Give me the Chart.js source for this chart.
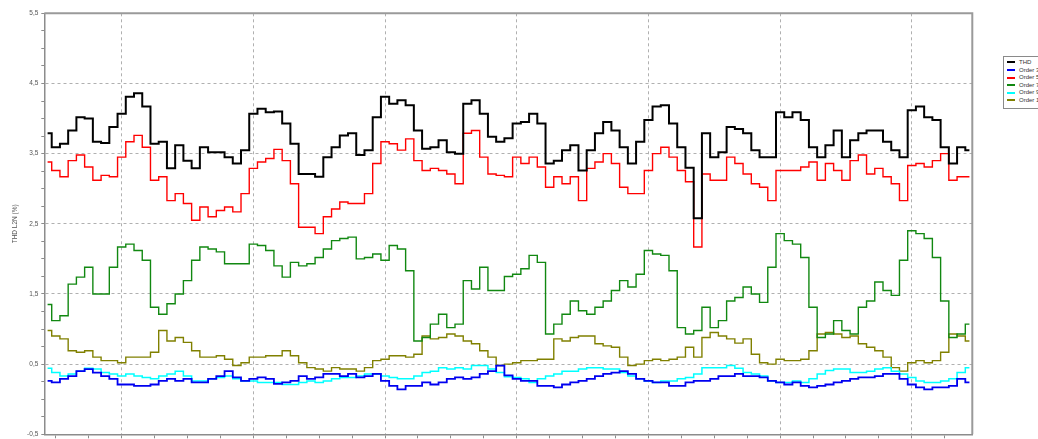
<!DOCTYPE html>
<html>
<head>
<meta charset="utf-8">
<title>THD L2N (%)</title>
<script src="https://cdn.jsdelivr.net/npm/chart.js@4.4.1/dist/chart.umd.min.js"></script>
<style>
    html, body { margin: 0; padding: 0; background: #fff; overflow: hidden; width: 1038px; height: 439px; }
    #wrap { position: relative; width: 1038px; height: 460px; }
    #legend {
        position: absolute; left: 1003px; top: 56px; width: 70px;
        border: 1px solid #8a8a8a; background: #fff; padding: 2px 0 3px 3px;
        font: 6px "Liberation Sans", Arial, sans-serif; color: #333;
    }
    #legend div { height: 7.6px; line-height: 7.6px; white-space: nowrap; }
    #legend span { display: inline-block; width: 8px; height: 2px; vertical-align: middle; margin-right: 4px; }
</style>
</head>
<body>
<div id="wrap">
    <canvas id="thdChart" width="1038" height="460"></canvas>
    <div id="legend"></div>
</div>
<script>
// Values, one sample every ~8 px (16 samples per major x division)

const seriesNames = ['THD', 'Order 3', 'Order 5', 'Order 7', 'Order 9', 'Order 11'];

// x tick labels at the major grid lines (cut off at the bottom of the picture)
const xTickLabels = ['10:00', '12:00', '14:00', '16:00', '18:00', '20:00', '22:00'];

const thd = [
    3.79, 3.59, 3.64, 3.83, 4.02, 4.00, 3.67, 3.65, 3.88, 4.07, 4.31, 4.36, 4.17, 3.64, 3.67, 3.29, 3.62, 3.40, 3.29, 3.59, 3.52, 3.52, 3.45, 3.36, 3.55, 4.07, 4.14, 4.09,
    4.10,
    3.93, 3.64, 3.21, 3.21, 3.17, 3.45, 3.59, 3.76, 3.79, 3.48, 3.55, 4.02, 4.31, 4.21, 4.26, 4.19, 3.83, 3.57, 3.59, 3.69, 3.52, 3.50, 4.21, 4.26, 4.07, 3.74, 3.67,
    3.72,
    3.93, 3.95, 4.07, 3.93, 3.36, 3.40, 3.55, 3.62, 3.26, 3.55, 3.79, 3.95, 3.83, 3.59, 3.36, 3.67, 3.98, 4.17, 4.19, 3.93, 3.59, 3.30, 2.58, 3.79, 3.45, 3.52, 3.88,
    3.85,
    3.79, 3.55, 3.45, 3.45, 4.09, 4.02, 4.09, 3.98, 3.59, 3.45, 3.62, 3.83, 3.45, 3.69, 3.79, 3.83, 3.83, 3.67, 3.55, 3.45, 4.12, 4.17, 4.02, 3.98, 3.59, 3.36, 3.59, 3.55
];

const order3 = [
    0.26, 0.24, 0.29, 0.33, 0.40, 0.43, 0.38, 0.33, 0.29, 0.21, 0.21, 0.19, 0.19, 0.21, 0.26, 0.29, 0.26, 0.29, 0.24, 0.24, 0.29, 0.33, 0.40, 0.31, 0.26, 0.29, 0.31, 0.29,
    0.22,
    0.24, 0.26, 0.33, 0.29, 0.31, 0.36, 0.36, 0.33, 0.36, 0.31, 0.33, 0.36, 0.26, 0.19, 0.14, 0.19, 0.19, 0.24, 0.21, 0.24, 0.29, 0.31, 0.29, 0.31, 0.36, 0.40, 0.48,
    0.34,
    0.29, 0.26, 0.26, 0.19, 0.19, 0.17, 0.21, 0.24, 0.26, 0.29, 0.33, 0.36, 0.38, 0.40, 0.36, 0.29, 0.26, 0.24, 0.24, 0.19, 0.19, 0.24, 0.26, 0.26, 0.29, 0.33, 0.33,
    0.36,
    0.33, 0.33, 0.31, 0.26, 0.24, 0.21, 0.24, 0.19, 0.17, 0.19, 0.21, 0.24, 0.26, 0.29, 0.31, 0.31, 0.33, 0.36, 0.36, 0.29, 0.21, 0.17, 0.14, 0.17, 0.17, 0.19, 0.29, 0.24
];

const order5 = [
    3.38, 3.26, 3.17, 3.40, 3.48, 3.31, 3.12, 3.19, 3.17, 3.45, 3.67, 3.76, 3.59, 3.12, 3.17, 2.83, 2.93, 2.79, 2.55, 2.74, 2.60, 2.69, 2.74, 2.67, 2.93, 3.29, 3.38, 3.43,
    3.56,
    3.40, 3.07, 2.45, 2.45, 2.36, 2.60, 2.71, 2.81, 2.79, 2.79, 2.93, 3.36, 3.67, 3.64, 3.55, 3.71, 3.40, 3.26, 3.29, 3.26, 3.21, 3.07, 3.79, 3.83, 3.45, 3.21, 3.19,
    3.17,
    3.45, 3.36, 3.45, 3.31, 3.02, 3.17, 3.07, 3.17, 2.83, 3.29, 3.38, 3.50, 3.36, 3.02, 2.93, 2.93, 3.26, 3.50, 3.59, 3.45, 3.26, 3.10, 2.17, 3.21, 3.12, 3.12, 3.45,
    3.36,
    3.21, 3.07, 3.02, 2.83, 3.26, 3.26, 3.26, 3.31, 3.38, 3.12, 3.36, 3.26, 3.12, 3.40, 3.48, 3.21, 3.29, 3.17, 3.07, 2.83, 3.33, 3.36, 3.31, 3.40, 3.50, 3.12, 3.17, 3.17
];

const order7 = [
    1.35, 1.12, 1.19, 1.64, 1.74, 1.88, 1.50, 1.50, 1.88, 2.17, 2.21, 2.12, 1.98, 1.31, 1.21, 1.36, 1.50, 1.69, 1.98, 2.17, 2.14, 2.10, 1.93, 1.93, 1.93, 2.21, 2.19, 2.12,
    1.90,
    1.74, 1.95, 1.90, 1.93, 2.02, 2.14, 2.26, 2.29, 2.31, 2.00, 2.02, 2.07, 1.98, 2.19, 2.14, 1.83, 0.83, 0.88, 1.07, 1.21, 1.02, 1.07, 1.69, 1.57, 1.88, 1.55, 1.55,
    1.75,
    1.78, 1.86, 2.05, 1.95, 0.93, 1.07, 1.21, 1.40, 1.26, 1.21, 1.31, 1.40, 1.55, 1.69, 1.60, 1.78, 2.12, 2.07, 2.05, 1.83, 1.02, 0.93, 0.98, 1.31, 1.02, 1.12, 1.40,
    1.45,
    1.60, 1.50, 1.38, 1.88, 2.36, 2.26, 2.21, 2.02, 1.31, 0.88, 0.93, 1.12, 0.98, 0.93, 1.31, 1.40, 1.67, 1.55, 1.48, 1.98, 2.40, 2.36, 2.29, 2.02, 1.40, 0.88, 0.93, 1.07
];

const order9 = [
    0.44, 0.38, 0.33, 0.36, 0.40, 0.44, 0.43, 0.38, 0.36, 0.33, 0.36, 0.33, 0.31, 0.29, 0.33, 0.36, 0.40, 0.33, 0.26, 0.26, 0.29, 0.31, 0.33, 0.29, 0.26, 0.26, 0.24, 0.24,
    0.24,
    0.21, 0.21, 0.24, 0.26, 0.24, 0.26, 0.29, 0.31, 0.31, 0.33, 0.36, 0.36, 0.33, 0.31, 0.29, 0.29, 0.33, 0.38, 0.40, 0.45, 0.43, 0.45, 0.43, 0.48, 0.48, 0.43, 0.38,
    0.32,
    0.31, 0.29, 0.24, 0.29, 0.33, 0.36, 0.40, 0.40, 0.43, 0.45, 0.45, 0.43, 0.43, 0.38, 0.33, 0.29, 0.26, 0.24, 0.26, 0.26, 0.29, 0.31, 0.36, 0.45, 0.45, 0.45, 0.48,
    0.44,
    0.38, 0.36, 0.33, 0.26, 0.24, 0.24, 0.26, 0.24, 0.29, 0.36, 0.41, 0.43, 0.43, 0.38, 0.38, 0.40, 0.43, 0.45, 0.40, 0.36, 0.31, 0.26, 0.24, 0.24, 0.26, 0.29, 0.38, 0.45
];

const order11 = [
    0.98, 0.90, 0.86, 0.69, 0.67, 0.69, 0.60, 0.55, 0.55, 0.52, 0.60, 0.60, 0.60, 0.67, 0.98, 0.83, 0.88, 0.81, 0.69, 0.60, 0.60, 0.62, 0.57, 0.48, 0.52, 0.60, 0.60, 0.62,
    0.62,
    0.69, 0.62, 0.52, 0.45, 0.43, 0.40, 0.45, 0.43, 0.43, 0.40, 0.45, 0.55, 0.57, 0.62, 0.62, 0.60, 0.64, 0.90, 0.86, 0.88, 0.93, 0.90, 0.83, 0.79, 0.69, 0.60, 0.48,
    0.50,
    0.52, 0.55, 0.55, 0.57, 0.57, 0.86, 0.83, 0.88, 0.90, 0.90, 0.79, 0.76, 0.74, 0.60, 0.48, 0.50, 0.55, 0.57, 0.55, 0.57, 0.60, 0.74, 0.60, 0.88, 0.95, 0.90, 0.86,
    0.80,
    0.86, 0.64, 0.52, 0.50, 0.57, 0.55, 0.55, 0.57, 0.69, 0.93, 0.95, 0.93, 0.88, 0.90, 0.79, 0.74, 0.69, 0.60, 0.45, 0.40, 0.52, 0.55, 0.52, 0.55, 0.67, 0.93, 0.90, 0.83
];

const colors = {
    thd: '#000000',
    order3: '#0000f0',
    order5: '#ff0000',
    order7: '#118811',
    order9: '#00ffff',
    order11: '#808000',
    grid: '#b0b0b0',
    axis: '#8c8c8c',
    text: '#555555'
};

const seriesValues = [thd, order3, order5, order7, order9, order11];
const seriesColors = [colors.thd, colors.order3, colors.order5, colors.order7, colors.order9, colors.order11];
const seriesWidths = [2, 1.8, 1.4, 1.4, 1.5, 1.4];

// major grid every 16 samples, first one at sample 9; tick marks every 4 samples
const isMajor = v => (v - 9) % 16 === 0;
const isHalf = v => Math.abs(((v + 0.5) % 1 + 1) % 1) < 1e-6;

const framePlugin = {
    id: 'frame',
    beforeDatasetsDraw(chart) {
        const { ctx, chartArea: a } = chart;
        ctx.save();
        ctx.strokeStyle = '#9a9a9a';
        ctx.lineWidth = 2;
        ctx.beginPath();
        ctx.moveTo(a.left, a.top);
        ctx.lineTo(a.right, a.top);
        ctx.lineTo(a.right, a.bottom);
        ctx.stroke();
        ctx.restore();
    }
};

const datasets = seriesNames.map((name, s) => ({
    label: name,
    data: seriesValues[s].map((v, i) => ({ x: i, y: v })),
    borderColor: seriesColors[s],
    backgroundColor: seriesColors[s],
    borderWidth: seriesWidths[s],
    stepped: 'middle',
    pointRadius: 0,
    fill: false
}));

const ctx = document.getElementById('thdChart').getContext('2d');
new Chart(ctx, {
    type: 'line',
    data: { datasets: datasets },
    plugins: [framePlugin],
    options: {
        responsive: false,
        animation: false,
        layout: { padding: { top: 13.3, right: 65.7, bottom: 0, left: 0 } },
        plugins: {
            legend: { display: false },
            tooltip: { enabled: false }
        },
        scales: {
            x: {
                type: 'linear',
                min: -0.4,
                max: 112.35,
                afterBuildTicks: function(scale) {
                    const t = [];
                    for (let v = 1; v <= 109; v += 4) t.push({ value: v });
                    scale.ticks = t;
                },
                afterFit: function(scale) { scale.height = 25.7; },
                ticks: {
                    autoSkip: false,
                    maxRotation: 0,
                    padding: 1,
                    color: colors.text,
                    font: { family: 'Liberation Sans', size: 7 },
                    callback: function(value) {
                        return isMajor(value) ? xTickLabels[(value - 9) / 16] : '';
                    }
                },
                grid: {
                    color: c => (c.tick && isMajor(c.tick.value)) ? colors.grid : 'rgba(0,0,0,0)',
                    tickColor: colors.axis,
                    tickLength: 4,
                    lineWidth: 1
                },
                border: { display: true, color: colors.axis, width: 1.5, dash: [3, 3] }
            },
            y: {
                min: -0.5,
                max: 5.5,
                afterFit: function(scale) { scale.width = 44.3; },
                ticks: {
                    stepSize: 0.25,
                    autoSkip: false,
                    padding: 3,
                    color: colors.text,
                    font: { family: 'Liberation Sans', size: 6.5 },
                    callback: function(value) {
                        return isHalf(value) ? value.toFixed(1).replace('.', ',') : '';
                    }
                },
                grid: {
                    color: c => (c.tick && isHalf(c.tick.value)) ? colors.grid : 'rgba(0,0,0,0)',
                    tickColor: colors.axis,
                    tickLength: 3,
                    lineWidth: 1
                },
                border: { display: true, color: colors.axis, width: 1.5, dash: [3, 3] },
                title: {
                    display: true,
                    text: 'THD L2N (%)',
                    color: colors.text,
                    font: { family: 'Liberation Sans', size: 6.5 },
                    padding: { top: 11.5, bottom: 0 }
                }
            }
        }
    }
});

// legend box on the right, clipped by the window edge like the original
const legendEl = document.getElementById('legend');
seriesNames.forEach((name, s) => {
    const row = document.createElement('div');
    const sw = document.createElement('span');
    sw.style.background = seriesColors[s];
    row.appendChild(sw);
    row.appendChild(document.createTextNode(name));
    legendEl.appendChild(row);
});
</script>
</body>
</html>
